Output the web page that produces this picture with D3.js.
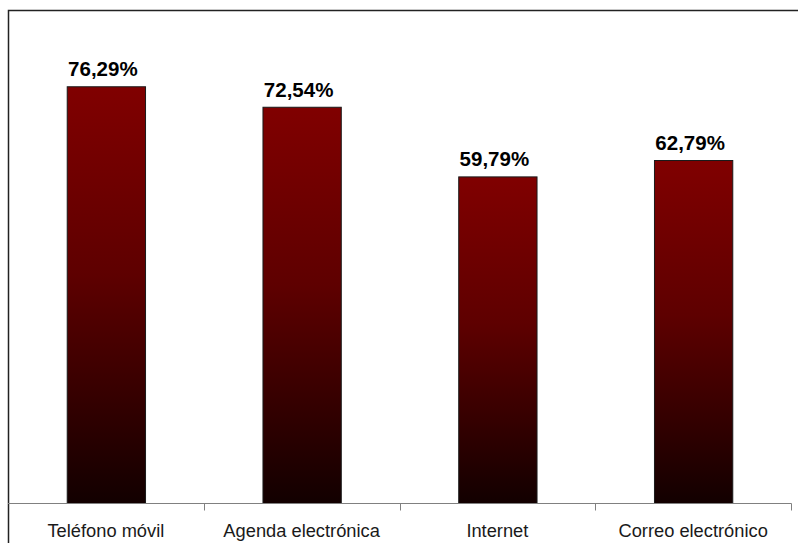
<!DOCTYPE html>
<html>
<head>
<meta charset="utf-8">
<script src="https://cdn.jsdelivr.net/npm/d3@7"></script>
<style>
  html, body { margin: 0; padding: 0; background: #fff; }
  svg { display: block; }
</style>
</head>
<body>
<svg id="chart" width="798" height="543"></svg>
<script>
const categories = ["Teléfono móvil", "Agenda electrónica", "Internet", "Correo electrónico"];
const values = [76.29, 72.54, 59.79, 62.79];
const valueLabels = ["76,29%", "72,54%", "59,79%", "62,79%"];

const svg = d3.select("#chart");
const W = 798, H = 543;

// outer frame (right and bottom edges fall outside the canvas)
svg.append("rect")
  .attr("x", 8.5).attr("y", 10.5)
  .attr("width", W + 10).attr("height", H + 10)
  .attr("fill", "#fff")
  .attr("stroke", "#222").attr("stroke-width", 1.5);

const plot = { left: 8, right: 791, top: 66, bottom: 503 };

const x = d3.scaleBand()
  .domain(categories)
  .range([plot.left, plot.right])
  .paddingInner(0.6)
  .paddingOuter(0.3);

const y = d3.scaleLinear()
  .domain([0, 80])
  .range([plot.bottom, plot.top]);

const defs = svg.append("defs");
const grad = defs.append("linearGradient")
  .attr("id", "barFill")
  .attr("x1", 0).attr("y1", 0).attr("x2", 0).attr("y2", 1);
grad.append("stop").attr("offset", "0%").attr("stop-color", "#800000");
grad.append("stop").attr("offset", "45%").attr("stop-color", "#5e0000");
grad.append("stop").attr("offset", "100%").attr("stop-color", "#120000");

const data = categories.map((c, i) => ({ c, v: values[i], label: valueLabels[i] }));

svg.append("g").selectAll("rect")
  .data(data)
  .join("rect")
  .attr("x", d => x(d.c) + 0.5)
  .attr("y", d => y(d.v) + 0.5)
  .attr("width", x.bandwidth())
  .attr("height", d => y(0) - y(d.v))
  .attr("fill", "url(#barFill)")
  .attr("stroke", "#1a1a1a")
  .attr("stroke-width", 1);

// value labels above bars
svg.append("g").selectAll("text")
  .data(data)
  .join("text")
  .attr("x", d => x(d.c) + x.bandwidth() / 2 - 3)
  .attr("y", d => y(d.v) - 10)
  .attr("text-anchor", "middle")
  .attr("font-family", "Liberation Sans, Arial, sans-serif")
  .attr("font-weight", "bold")
  .attr("font-size", 20.5)
  .attr("fill", "#000")
  .text(d => d.label);

// category axis
const xAxis = d3.scaleLinear().domain([0, categories.length]).range([plot.left, plot.right]);
const axisG = svg.append("g").attr("transform", `translate(0,${plot.bottom + 0.5})`);
axisG.append("line")
  .attr("x1", plot.left).attr("x2", plot.right + 0.5)
  .attr("stroke", "#808080").attr("stroke-width", 1);
axisG.selectAll("line.tick")
  .data(d3.range(1, categories.length + 1))
  .join("line")
  .attr("class", "tick")
  .attr("x1", d => Math.round(xAxis(d)) + 0.5)
  .attr("x2", d => Math.round(xAxis(d)) + 0.5)
  .attr("y1", 0).attr("y2", 7)
  .attr("stroke", "#808080").attr("stroke-width", 1);

svg.append("g").selectAll("text")
  .data(categories)
  .join("text")
  .attr("x", d => x(d) + x.bandwidth() / 2)
  .attr("y", 537)
  .attr("text-anchor", "middle")
  .attr("font-family", "Liberation Sans, Arial, sans-serif")
  .attr("font-size", 18.3)
  .attr("fill", "#1a1a1a")
  .text(d => d);
</script>
</body>
</html>
